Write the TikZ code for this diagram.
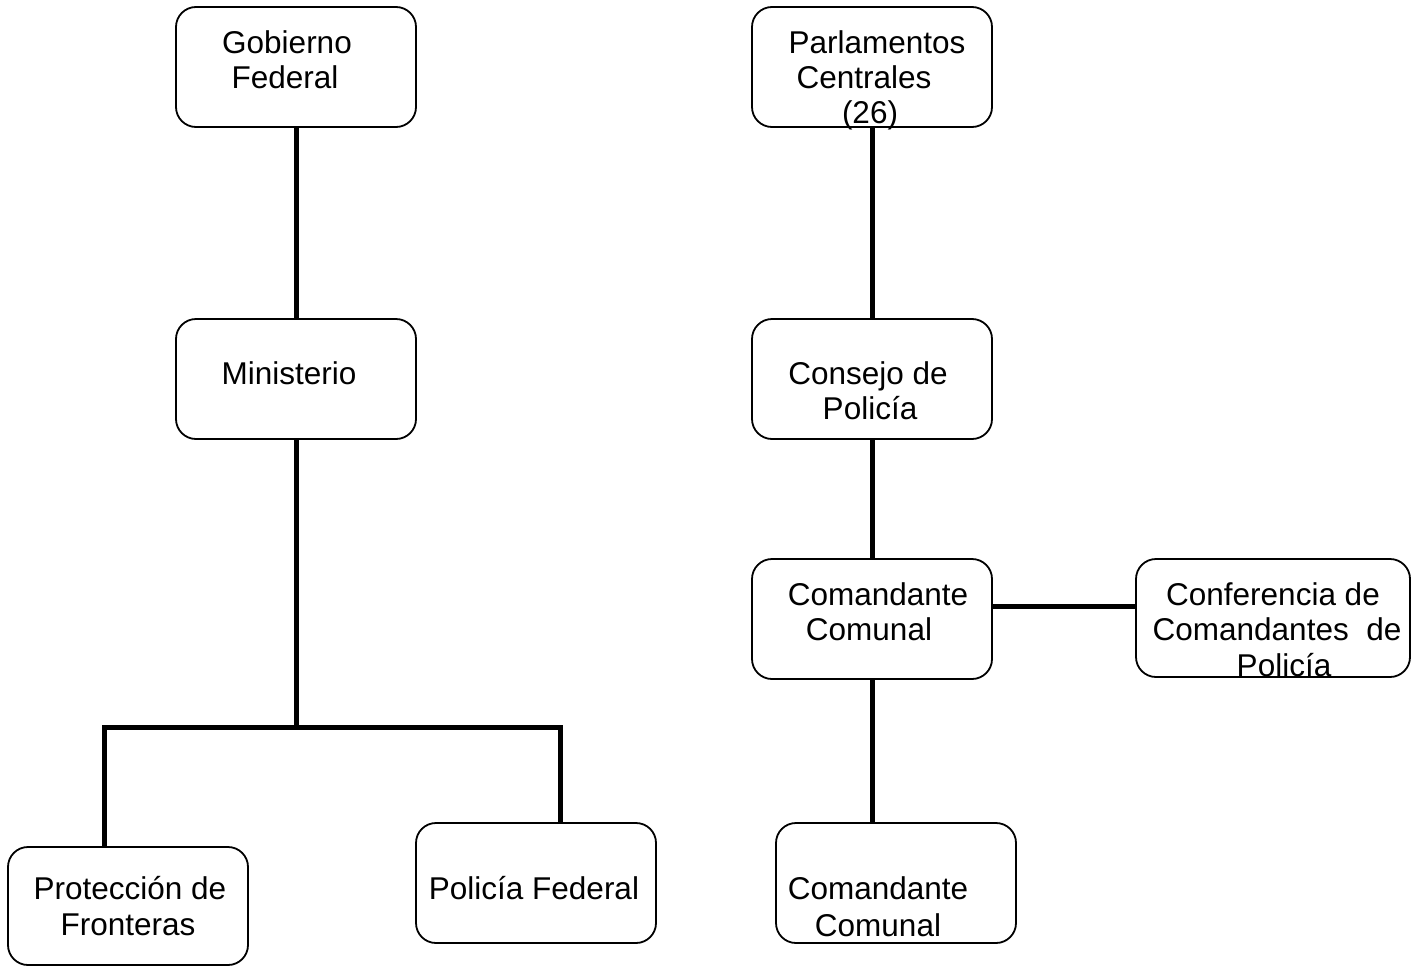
\documentclass[tikz,border=0pt]{standalone}
\usepackage{fontspec}
\setmainfont{Liberation Sans}
\begin{document}
\begin{tikzpicture}[x=1pt,y=-1pt,
  orgbox/.style={draw, line width=1.8pt, rounded corners=20pt, inner sep=0pt,
    minimum width=240pt, minimum height=120pt},
  link/.style={line width=5pt},
  txt/.style={inner sep=0pt, anchor=base, font=\fontsize{31.5}{35}\selectfont}]
\useasboundingbox (0,0) rectangle (1412,966);

% boxes
\node[orgbox] (gob) at (296,67) {};
\node[orgbox] (parl) at (872,67) {};
\node[orgbox] (min) at (296,379) {};
\node[orgbox] (cons) at (872,379) {};
\node[orgbox] (cmid) at (872,619) {};
\node[orgbox, minimum width=274pt, minimum height=118pt] (conf) at (1273,618) {};
\node[orgbox, minimum height=118pt] (prot) at (128,906) {};
\node[orgbox] (polf) at (536,883) {};
\node[orgbox] (cbot) at (896,883) {};

% connectors
\coordinate (jl) at (104,727);
\coordinate (jr) at (560,727);
\coordinate (jm) at (296,727);
\coordinate (hl) at (0,606);
\draw[link] (gob.south) -- (min.north);
\draw[link] (min.south) -- (jm);
\draw[link] (jl |- prot.north) -- (jl) -- (jr) -- (jr |- polf.north);
\draw[link] (parl.south) -- (cons.north);
\draw[link] (cons.south) -- (cmid.north);
\draw[link] (cmid.east |- hl) -- (conf.west |- hl);
\draw[link] (cmid.south) -- (cmid.south |- cbot.north);

% labels
\node[txt] (gob1) at (287,53) {Gobierno};
\node[txt] (gob2) at (285,88) {Federal};
\node[txt] (parl1) at (877,53) {Parlamentos};
\node[txt] (parl2) at (864,88) {Centrales};
\node[txt] (parl3) at (870,123) {(26)};
\node[txt] (min1) at (289,384) {Ministerio};
\node[txt] (cons1) at (868,384) {Consejo de};
\node[txt] (cons2) at (870,419) {Policía};
\node[txt] (cmid1) at (878,605) {Comandante};
\node[txt] (cmid2) at (869,640) {Comunal};
\node[txt] (conf1) at (1273,605) {Conferencia de};
\node[txt] (conf2) at (1277,640) {Comandantes\ \ de};
\node[txt] (conf3) at (1284,676) {Policía};
\node[txt] (prot1) at (130,899) {Protección de};
\node[txt] (prot2) at (128,935) {Fronteras};
\node[txt] (polf1) at (534,899) {Policía Federal};
\node[txt] (cbot1) at (878,899) {Comandante};
\node[txt] (cbot2) at (878,936) {Comunal};
\end{tikzpicture}
\end{document}
